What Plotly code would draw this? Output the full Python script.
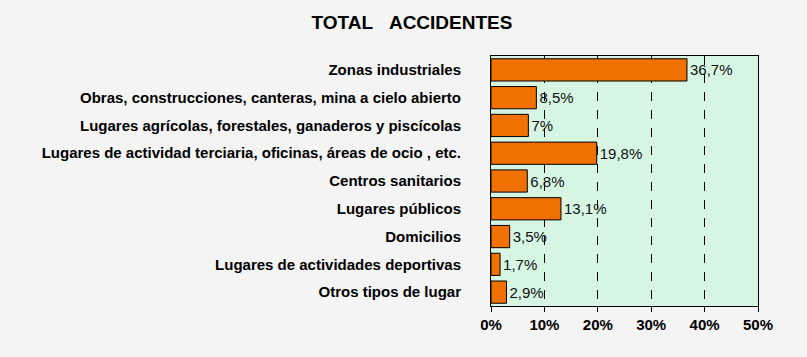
import plotly.graph_objects as go

categories = [
    "Zonas industriales",
    "Obras, construcciones, canteras, mina a cielo abierto",
    "Lugares agrícolas, forestales, ganaderos y piscícolas",
    "Lugares de actividad terciaria, oficinas, áreas de ocio , etc.",
    "Centros sanitarios",
    "Lugares públicos",
    "Domicilios",
    "Lugares de actividades deportivas",
    "Otros tipos de lugar",
]
values = [36.7, 8.5, 7.0, 19.8, 6.8, 13.1, 3.5, 1.7, 2.9]
value_labels = ["36,7%", "8,5%", "7%", "19,8%", "6,8%", "13,1%", "3,5%", "1,7%", "2,9%"]
tick_vals = [0, 10, 20, 30, 40, 50]
tick_text = ["0%", "10%", "20%", "30%", "40%", "50%"]

fig = go.Figure(go.Bar(
    x=values, y=categories, orientation="h",
    marker=dict(color="#f07000", line=dict(color="#000000", width=1)),
    text=value_labels, textposition="outside", cliponaxis=False,
    textfont=dict(family="Arial, Liberation Sans", size=15, color="#111111"),
))

fig.update_layout(
    width=807, height=357,
    margin=dict(l=491, r=49, t=56, b=51),
    paper_bgcolor="#f4f4f4",
    plot_bgcolor="#d6f5e3",
    bargap=0.2,
    showlegend=False,
    title=dict(text="<b>TOTAL\u00a0\u00a0\u00a0ACCIDENTES</b>", x=412 / 807, xanchor="center",
               y=1 - 22 / 357, yanchor="middle",
               font=dict(family="Arial, Liberation Sans", size=19, color="#000000")),
    font=dict(family="Arial, Liberation Sans", color="#000000"),
)
fig.update_xaxes(
    range=[0, 50], tickvals=tick_vals, ticktext=tick_text,
    showgrid=True, gridcolor="#000000", griddash="dash", gridwidth=1,
    showline=True, linecolor="#000000", linewidth=1, mirror=True,
    ticks="outside", ticklen=5, tickcolor="#000000", ticklabelstandoff=0,
    tickfont=dict(family="Arial, Liberation Sans", size=15, color="#000000", weight="bold"),
    zeroline=False, automargin=False,
)
fig.update_yaxes(
    autorange="reversed",
    showline=True, linecolor="#000000", linewidth=1, mirror=True,
    ticks="", ticklabelstandoff=26, automargin=False,
    tickfont=dict(family="Arial, Liberation Sans", size=15, color="#000000", weight="bold"),
)

fig.write_html("out.html", config={"displayModeBar": False},
               post_script="document.body.style.margin='0';")
